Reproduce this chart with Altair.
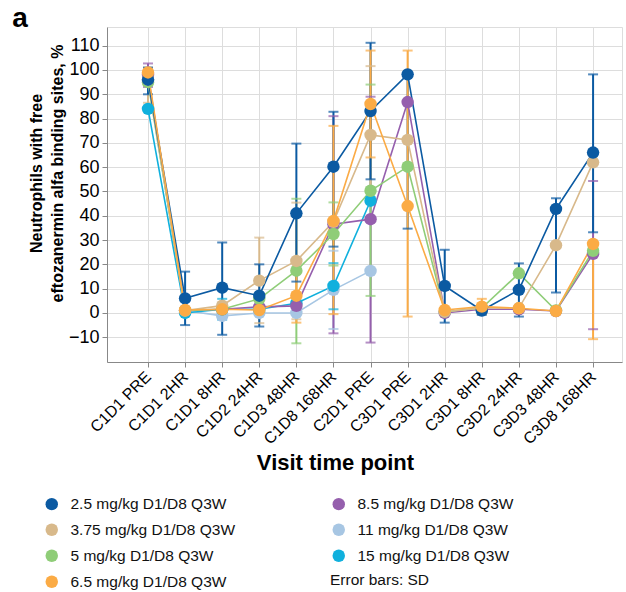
import json
import altair as alt
import pandas as pd

# ---------------- data ----------------
categories = ["C1D1 PRE", "C1D1 2HR", "C1D1 8HR", "C1D2 24HR", "C1D3 48HR", "C1D8 168HR",
              "C2D1 PRE", "C3D1 PRE", "C3D1 2HR", "C3D1 8HR", "C3D2 24HR", "C3D3 48HR", "C3D8 168HR"]

series_names = ["2.5 mg/kg D1/D8 Q3W", "3.75 mg/kg D1/D8 Q3W", "5 mg/kg D1/D8 Q3W",
                "6.5 mg/kg D1/D8 Q3W", "8.5 mg/kg D1/D8 Q3W", "11 mg/kg D1/D8 Q3W",
                "15 mg/kg D1/D8 Q3W"]
series_colors = ["#0b5aa2", "#d8b98b", "#8fcd78", "#fbab45", "#955fad", "#a7c6e3", "#10b0dd"]

N = None
v_25 = [96, 6, 10.4, 7.1, 41, 60.2, 83.1, 98.2, 11.1, 1, 9.5, 42.8, 66]
lo_25 = [90, -5, -9, -5.6, 12.9, 27.3, 55, 34.7, -4, -0.8, -1.5, 8.4, 33.2]
hi_25 = [101, 17, 29, 20, 69.7, 82.8, 111.2, N, 26, 2.8, 20.4, 47.2, 98.2]

v_375 = [96, 1, 3, 13.3, 21.4, 37.5, 73.3, 71.2, 0.5, 2, 2, 27.9, 62]
lo_375 = [86.5, N, N, -4.2, -2.6, N, 45, N, N, N, N, N, N]
hi_375 = [101, N, N, 31, 45.4, N, 101.6, N, N, N, N, N, N]

v_5 = [95, 1, 1.5, 5.8, 17.4, 32.5, 50.3, 60.2, 0.5, 2, 16.3, 1, 25.6]
lo_5 = [N, N, N, N, -12.5, 19.5, 7, N, N, N, N, N, N]
hi_5 = [N, N, N, N, 47, 45.5, 94, N, N, N, N, N, N]

v_65 = [99, 1.2, 1.5, 1.2, 7.1, 37.9, 86, 44, 1.2, 2.6, 1.9, 0.8, 28.4]
lo_65 = [N, N, N, N, -4, -0.5, 64, -1.5, N, -0.5, N, N, -10.8]
hi_65 = [N, N, N, N, 18, 77, 108, 108, N, 5.8, N, N, N]

v_85 = [98, 1, 1.5, 2.5, 2.9, 36.5, 38.6, 86.8, 0, 1.5, 1.5, 0.8, 24.3]
lo_85 = [93, N, N, N, N, -8.4, -12.2, N, N, N, N, N, -6.7]
hi_85 = [102.7, N, N, N, N, 81, 89, N, N, N, N, N, 54.3]

v_11 = [96, 1, -1.2, 0, 0, 9.5, 17.3, N, N, N, N, N, N]
lo_11 = [N, N, N, N, N, -6.6, N, N, N, N, N, N, N]
hi_11 = [N, N, N, N, N, 25.6, N, N, N, N, N, N, N]

v_15 = [84, 0, 1.5, 1.5, 4, 11.1, 46.2, N, N, N, N, N, N]
lo_15 = [N, N, -2.8, N, N, 1.5, N, N, N, N, N, N, N]
hi_15 = [N, N, 5.8, N, N, 20.5, N, N, N, N, N, N, N]

error_note = "Error bars: SD"

# drawing order (last on top)
draw_order = ["11 mg/kg D1/D8 Q3W", "15 mg/kg D1/D8 Q3W", "8.5 mg/kg D1/D8 Q3W",
              "5 mg/kg D1/D8 Q3W", "3.75 mg/kg D1/D8 Q3W", "2.5 mg/kg D1/D8 Q3W",
              "6.5 mg/kg D1/D8 Q3W"]

series_data = {
    "2.5 mg/kg D1/D8 Q3W": (v_25, lo_25, hi_25),
    "3.75 mg/kg D1/D8 Q3W": (v_375, lo_375, hi_375),
    "5 mg/kg D1/D8 Q3W": (v_5, lo_5, hi_5),
    "6.5 mg/kg D1/D8 Q3W": (v_65, lo_65, hi_65),
    "8.5 mg/kg D1/D8 Q3W": (v_85, lo_85, hi_85),
    "11 mg/kg D1/D8 Q3W": (v_11, lo_11, hi_11),
    "15 mg/kg D1/D8 Q3W": (v_15, lo_15, hi_15),
}

pts, bars, caps = [], [], []
for z, s in enumerate(draw_order):
    vals, los, his = series_data[s]
    for i, v in enumerate(vals):
        if v is None:
            continue
        pts.append({"series": s, "idx": i, "value": v, "z": z})
        lo, hi = los[i], his[i]
        if lo is not None or hi is not None:
            bars.append({"series": s, "idx": i, "z": z,
                         "y1": lo if lo is not None else v,
                         "y2": hi if hi is not None else v})
        for c in (lo, hi):
            if c is not None:
                caps.append({"series": s, "idx": i, "cap": c, "z": z})

df_pts = pd.DataFrame(pts)
df_bars = pd.DataFrame(bars)
df_caps = pd.DataFrame(caps)

FONT = "Liberation Sans"
W, H = 515, 335

xscale = alt.Scale(domain=[-1.106, 12.78], nice=False, zero=False)
yscale = alt.Scale(domain=[-20.2, 117.7], nice=False, zero=False)
color = alt.Color("series:N",
                  scale=alt.Scale(domain=series_names, range=series_colors),
                  legend=alt.Legend(values=series_names, title=None, orient="none",
                                    legendX=-63, legendY=469, columns=2,
                                    columnPadding=95, rowPadding=9,
                                    symbolType="circle", symbolSize=155,
                                    symbolStrokeWidth=0, symbolOpacity=1,
                                    labelFontSize=15.5, labelFont=FONT, labelColor="#111",
                                    labelOffset=11, labelLimit=400))

label_expr = json.dumps(categories) + "[datum.value]"
xaxis = alt.Axis(values=list(range(len(categories))), labelExpr=label_expr,
                 labelAngle=-45, labelAlign="right", labelBaseline="middle",
                 labelOverlap=False, labelFlush=False,
                 labelFontSize=16, labelPadding=7, title="Visit time point",
                 titleFontSize=22, titleFontWeight="bold", titleX=228, titleY=107,
                 titleBaseline="alphabetic", titleAlign="center")
yaxis = alt.Axis(values=list(range(-10, 111, 10)), labelFontSize=18, labelPadding=3,
                 labelOverlap=False,
                 title=["Neutrophils with free", "eftozanermin alfa binding sites, %"],
                 titleFontSize=16, titleFontWeight="bold", titleLineHeight=21,
                 titleAngle=270, titleX=-79, titleY=146, titleBaseline="top",
                 titleAlign="center")

x_enc = alt.X("idx:Q", scale=xscale, axis=xaxis)
y_enc = alt.Y("value:Q", scale=yscale, axis=yaxis)

rules = alt.Chart(df_bars).mark_rule(strokeWidth=2).encode(
    x=alt.X("idx:Q", scale=xscale, axis=xaxis),
    y=alt.Y("y1:Q", scale=yscale, axis=yaxis),
    y2="y2:Q",
    color=color,
    order=alt.Order("z:Q"),
)
capmarks = alt.Chart(df_caps).mark_tick(orient="horizontal", size=10, thickness=2).encode(
    x=alt.X("idx:Q", scale=xscale, axis=xaxis),
    y=alt.Y("cap:Q", scale=yscale, axis=yaxis),
    color=color,
    order=alt.Order("z:Q"),
)
lines = alt.Chart(df_pts).mark_line(strokeWidth=1.6).encode(
    x=x_enc, y=y_enc, color=color, detail="series:N",
    order=alt.Order("idx:Q"),
)
points = alt.Chart(df_pts).mark_circle(size=155, opacity=1).encode(
    x=x_enc, y=y_enc, color=color,
    order=alt.Order("z:Q"),
)
note = alt.Chart(pd.DataFrame({"t": [error_note]})).mark_text(
    font=FONT, fontSize=15.5, color="#111", align="left", baseline="middle"
).encode(text="t:N", x=alt.value(223), y=alt.value(553))
panel = alt.Chart(pd.DataFrame({"t": ["a"]})).mark_text(
    font=FONT, fontSize=28, fontWeight="bold", color="#000", align="center",
    baseline="alphabetic"
).encode(text="t:N", x=alt.value(-87), y=alt.value(0))

chart = alt.layer(rules, capmarks, lines, points, note, panel).properties(
    width=W, height=H,
    autosize=alt.AutoSizeParams(type="none"),
    padding={"left": 107, "top": 27, "right": 4, "bottom": 230},
).configure_view(stroke=None).configure_axis(
    grid=False, domainColor="#111", domainWidth=1.5, tickColor="#111",
    tickWidth=1.5, tickSize=6, labelColor="#111", titleColor="#000",
    labelFont=FONT, titleFont=FONT,
).configure(background="white")

chart.save("out.html", embed_options={"renderer": "svg", "actions": False})
